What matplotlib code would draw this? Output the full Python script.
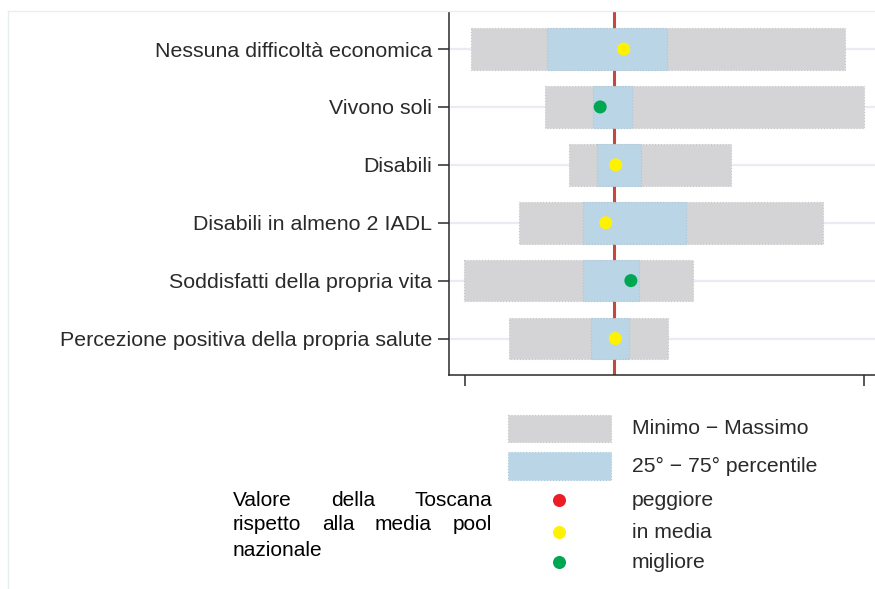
import matplotlib
matplotlib.use("Agg")
import matplotlib.pyplot as plt
from matplotlib.patches import Rectangle
import numpy as np

plt.rcParams['font.family'] = ['Liberation Sans', 'DejaVu Sans']

# ---------------- data ----------------
categories = ["Nessuna difficoltà economica", "Vivono soli", "Disabili",
              "Disabili in almeno 2 IADL", "Soddisfatti della propria vita",
              "Percezione positiva della propria salute"]
min_vals = [1.5, 20.1, 26.1, 13.5, -0.2, 11.0]
max_vals = [95.2, 100.0, 66.7, 89.8, 57.2, 50.8]
p25_vals = [20.6, 32.2, 33.2, 29.6, 29.6, 31.7]
p75_vals = [50.7, 42.0, 44.2, 55.3, 43.7, 41.2]
toscana_vals = [39.8, 33.9, 37.8, 35.3, 41.6, 37.7]
toscana_judgement = ["in media", "migliore", "in media", "in media", "migliore", "in media"]
pool_mean = 37.3

legend_bars = ["Minimo \u2212 Massimo", "25\u00b0 \u2212 75\u00b0 percentile"]
legend_dots = ["peggiore", "in media", "migliore"]
note_lines = [["Valore", "della", "Toscana"],
              ["rispetto", "alla", "media", "pool"],
              ["nazionale"]]

# ---------------- styles ----------------
GRAY = "#d4d3d5"
GRAY_EDGE = "#c6c6c8"
BLUE = "#bad5e5"
BLUE_EDGE = "#a6c9dd"
RED_LINE = "#c4483e"
DOT_COLORS = {"peggiore": "#ee1c25", "in media": "#fff200", "migliore": "#00a651"}
TXT = "#2a2a2a"
FS = 15.4

W, H = 875, 589
fig = plt.figure(figsize=(W / 100, H / 100), dpi=100)
fig.patch.set_facecolor("white")

ax = fig.add_axes([449 / W, 1 - 375 / H, (W - 449) / W, (375 - 12) / H])
y = np.arange(len(categories))
mins = np.array(min_vals)
maxs = np.array(max_vals)
p25 = np.array(p25_vals)
p75 = np.array(p75_vals)

ax.axvline(pool_mean, color=RED_LINE, lw=2.2, zorder=1.5)
ax.barh(y, maxs - mins, left=mins, height=0.72, color=GRAY, edgecolor=GRAY_EDGE,
        linestyle=":", linewidth=0.8, zorder=2)
ax.barh(y, p75 - p25, left=p25, height=0.72, color=BLUE, edgecolor=BLUE_EDGE,
        linestyle=":", linewidth=0.8, zorder=3)
ax.scatter(toscana_vals, y, s=88, c=[DOT_COLORS[j] for j in toscana_judgement],
           edgecolors="none", zorder=4)

ax.set_xlim(-4.0, 102.8)
ax.set_ylim(len(categories) - 1 + 0.63, -0.64)
ax.set_yticks(y)
ax.set_yticklabels(categories, fontsize=FS, color=TXT)
ax.set_xticks([0, 100])
ax.set_xticklabels([])
ax.tick_params(axis="both", direction="out", length=8, width=1.1, color=TXT, pad=4.3)
ax.yaxis.grid(True, color="#ebebf5", lw=1.6)
ax.set_axisbelow(True)
for s in ["top", "right"]:
    ax.spines[s].set_visible(False)
for s in ["left", "bottom"]:
    ax.spines[s].set_color(TXT)
    ax.spines[s].set_linewidth(1.1)

# ---------------- overlay (legend & note) in pixel coordinates ----------------
ov = fig.add_axes([0, 0, 1, 1])
ov.set_xlim(0, W)
ov.set_ylim(H, 0)
ov.axis("off")

# faint frame
ov.plot([8, W], [11, 11], color="#e8eeee", lw=1)
ov.plot([8, 8], [11, H], color="#e8eeee", lw=1)

ov.add_patch(Rectangle((508, 415), 103, 27, facecolor=GRAY, edgecolor=GRAY_EDGE,
                       linestyle=":", linewidth=0.8))
ov.add_patch(Rectangle((508, 452), 103, 28, facecolor=BLUE, edgecolor=BLUE_EDGE,
                       linestyle=":", linewidth=0.8))
for lab, yy in zip(legend_bars, [428.5, 466]):
    ov.text(632, yy, lab, fontsize=15.2, color=TXT, va="center", ha="left")

dot_y = [500.5, 532.5, 562.5]
ov.scatter([559.5] * 3, dot_y, s=88, c=[DOT_COLORS[k] for k in legend_dots],
           edgecolors="none")
for lab, yy in zip(legend_dots, dot_y):
    ov.text(632, yy, lab, fontsize=15.2, color=TXT, va="center", ha="left")

# justified note block
fig.canvas.draw()
r = fig.canvas.get_renderer()
x0, x1 = 233, 492
note_y = [500, 525, 550]
for words, yy in zip(note_lines, note_y):
    texts = [ov.text(0, yy, w, fontsize=15, color="black", va="center", ha="left")
             for w in words]
    widths = [t.get_window_extent(r).width for t in texts]
    if len(words) > 1:
        gap = (x1 - x0 - sum(widths)) / (len(words) - 1)
    else:
        gap = 0
    x = x0
    for t, wdt in zip(texts, widths):
        t.set_x(x)
        x += wdt + gap

fig.savefig("out.png", dpi=100, facecolor="white")
